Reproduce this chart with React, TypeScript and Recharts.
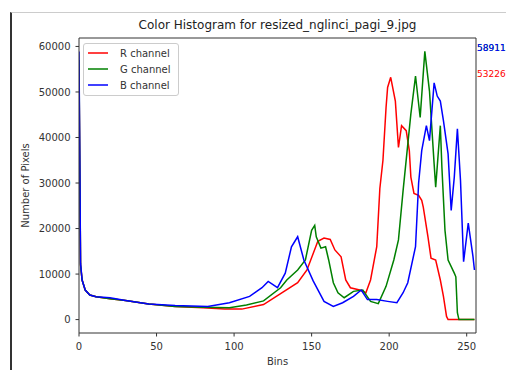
import {
  LineChart,
  Line,
  XAxis,
  YAxis,
  Legend,
  Label,
  ReferenceDot,
  ReferenceLine,
} from "recharts";

// bins and pixel counts, one pair of arrays per channel
const R_BINS = [0, 1, 2, 4, 7, 11, 20, 30, 45, 62, 80, 94, 105, 119, 130, 141, 147, 154, 158, 162, 165, 169, 172, 175, 181, 185, 188, 192, 194, 196, 198, 199, 201, 204, 206, 208, 211, 213, 214, 216, 219, 221, 222, 225, 227, 230, 233, 235, 237, 238, 255];
const R_COUNTS = [55000, 12000, 8700, 6500, 5400, 5000, 4600, 4200, 3400, 2900, 2600, 2300, 2300, 3300, 5700, 8100, 10900, 17200, 17900, 17600, 15300, 13800, 8700, 7000, 6500, 5900, 8700, 16000, 28800, 35000, 46600, 51000, 53226, 48000, 37800, 42600, 41500, 37100, 31300, 27700, 27300, 26200, 24700, 18200, 13500, 13100, 8700, 5100, 700, 0, 0];

const G_BINS = [0, 1, 2, 4, 7, 11, 20, 30, 45, 62, 80, 97, 108, 119, 130, 134, 141, 146, 150, 152, 153, 156, 159, 161, 164, 167, 171, 177, 183, 188, 193, 198, 203, 206, 209, 214, 217, 220, 223, 226, 229, 230, 233, 234, 236, 238, 242, 243, 244, 245, 255];
const G_COUNTS = [57000, 12000, 8700, 6500, 5400, 5000, 4600, 4200, 3400, 2900, 2700, 2600, 3200, 4100, 7000, 8700, 10900, 13100, 19600, 20700, 18200, 15700, 16000, 13100, 8100, 5900, 4800, 6200, 6500, 4000, 3500, 7300, 13100, 17500, 28400, 45200, 53500, 44400, 58911, 50200, 34200, 29100, 42600, 33500, 19600, 13100, 10200, 9400, 1500, 0, 0];

const B_BINS = [0, 1, 2, 4, 7, 11, 20, 30, 45, 62, 83, 97, 110, 118, 122, 128, 133, 137, 141, 145, 151, 158, 164, 170, 177, 182, 186, 192, 199, 205, 209, 212, 217, 219, 221, 224, 226, 229, 231, 233, 235, 238, 240, 242, 244, 246, 248, 251, 254, 255];
const B_COUNTS = [58911, 12400, 8700, 6500, 5400, 5000, 4800, 4200, 3400, 3100, 2900, 3700, 5100, 7000, 8400, 7000, 10200, 16000, 18200, 13100, 8500, 4000, 2900, 3700, 5100, 6500, 4400, 4400, 4000, 3700, 5900, 8100, 16000, 30000, 37100, 42600, 39300, 52000, 49100, 48000, 43700, 36400, 24000, 31300, 41900, 30600, 12700, 21200, 14000, 10900];

const SERIES_NAMES = ["R channel", "G channel", "B channel"];
const X_TICKS = [0, 50, 100, 150, 200, 250];
const Y_TICKS = [0, 10000, 20000, 30000, 40000, 50000, 60000];
const X_DOMAIN = [0, 256];
const Y_DOMAIN = [-2945, 61856];
const PEAKS = [
  { label: "58911", value: 58911, color: "#008000" },
  { label: "58911", value: 58911, color: "#0000ff" },
  { label: "53226", value: 53226, color: "#ff0000" },
];
const TITLE = "Color Histogram for resized_nglinci_pagi_9.jpg";

const FONT = "DejaVu Sans, sans-serif";

const toSeries = (bins: number[], counts: number[]) =>
  bins.map((bin, i) => ({ bin, count: counts[i] }));

const redData = toSeries(R_BINS, R_COUNTS);
const greenData = toSeries(G_BINS, G_COUNTS);
const blueData = toSeries(B_BINS, B_COUNTS);

function LegendBox({ payload }: any) {
  // keep the plotting order, recharts sorts by name otherwise
  const items = [...(payload ?? [])].sort(
    (a: any, b: any) => SERIES_NAMES.indexOf(a.value) - SERIES_NAMES.indexOf(b.value)
  );
  return (
    <div
      style={{
        border: "1px solid #ccc",
        borderRadius: 3,
        background: "rgba(255,255,255,0.8)",
        padding: "1px 7px 2px 4px",
        fontFamily: FONT,
        fontSize: 10,
        color: "#333",
      }}
    >
      {items.map((p: any) => (
        <div
          key={p.value}
          style={{ display: "flex", alignItems: "center", height: 16 }}
        >
          <svg width={20} height={4} style={{ marginRight: 12 }}>
            <line x1={0} y1={2} x2={20} y2={2} stroke={p.color} strokeWidth={1.5} />
          </svg>
          <span style={{ whiteSpace: "nowrap" }}>{p.value}</span>
        </div>
      ))}
    </div>
  );
}

const peakLabel = (color: string) => (props: any) => {
  const { viewBox, value } = props;
  if (!viewBox) return null;
  return (
    <text
      x={viewBox.x + 1}
      y={viewBox.y}
      fill={color}
      fontSize={9}
      fontFamily={FONT}
    >
      {value}
    </text>
  );
};

export default function App() {
  const tick = { fill: "#333", fontSize: 10, fontFamily: FONT };
  return (
    <div style={{ position: "absolute", left: 0, top: 0, width: 506, height: 370, background: "#fff", overflow: "hidden" }}>
      <div
        style={{
          position: "absolute",
          left: 10,
          top: 12,
          width: 494,
          height: 358,
          borderLeft: "2px solid #333",
          borderTop: "1px solid #ccc",
        }}
      />
      <LineChart
        width={506}
        height={370}
        margin={{ top: 38, right: 30, bottom: 0, left: 0 }}
        style={{ position: "absolute", left: 0, top: 0 }}
      >
        <XAxis
          dataKey="bin"
          type="number"
          domain={X_DOMAIN}
          ticks={X_TICKS}
          allowDataOverflow
          height={37}
          tick={tick}
          tickSize={3.5}
          tickMargin={6}
          stroke="#333"
        >
          <Label
            value="Bins"
            position="insideBottom"
            offset={5}
            style={{ fill: "#333", fontSize: 10, fontFamily: FONT }}
          />
        </XAxis>
        <YAxis
          type="number"
          domain={Y_DOMAIN}
          ticks={Y_TICKS}
          allowDataOverflow
          width={79}
          tick={tick}
          tickSize={3.5}
          tickMargin={5}
          stroke="#333"
        >
          <Label
            value="Number of Pixels"
            angle={-90}
            position="insideLeft"
            offset={25}
            style={{ textAnchor: "middle", fill: "#333", fontSize: 10, fontFamily: FONT }}
          />
        </YAxis>
        {/* top and right spines of the frame */}
        <ReferenceLine
          y={Y_DOMAIN[1]}
          stroke="#333"
          ifOverflow="visible"
          label={{
            value: TITLE,
            position: "top",
            offset: 9,
            fill: "#222",
            fontSize: 12,
            fontFamily: FONT,
          }}
        />
        <ReferenceLine x={X_DOMAIN[1]} stroke="#333" ifOverflow="visible" />
        <Legend
          layout="vertical"
          align="center"
          verticalAlign="middle"
          wrapperStyle={{ left: 83, top: 43, width: "auto" }}
          content={<LegendBox />}
        />
        <Line
          data={redData}
          dataKey="count"
          name="R channel"
          type="linear"
          stroke="#ff0000"
          strokeWidth={1.5}
          dot={false}
          isAnimationActive={false}
        />
        <Line
          data={greenData}
          dataKey="count"
          name="G channel"
          type="linear"
          stroke="#008000"
          strokeWidth={1.5}
          dot={false}
          isAnimationActive={false}
        />
        <Line
          data={blueData}
          dataKey="count"
          name="B channel"
          type="linear"
          stroke="#0000ff"
          strokeWidth={1.5}
          dot={false}
          isAnimationActive={false}
        />
        {PEAKS.map((p, i) => (
          <ReferenceDot
            key={i}
            x={X_DOMAIN[1]}
            y={p.value}
            r={0}
            fill="none"
            stroke="none"
            ifOverflow="visible"
            label={{ value: p.label, content: peakLabel(p.color) }}
          />
        ))}
      </LineChart>
    </div>
  );
}
